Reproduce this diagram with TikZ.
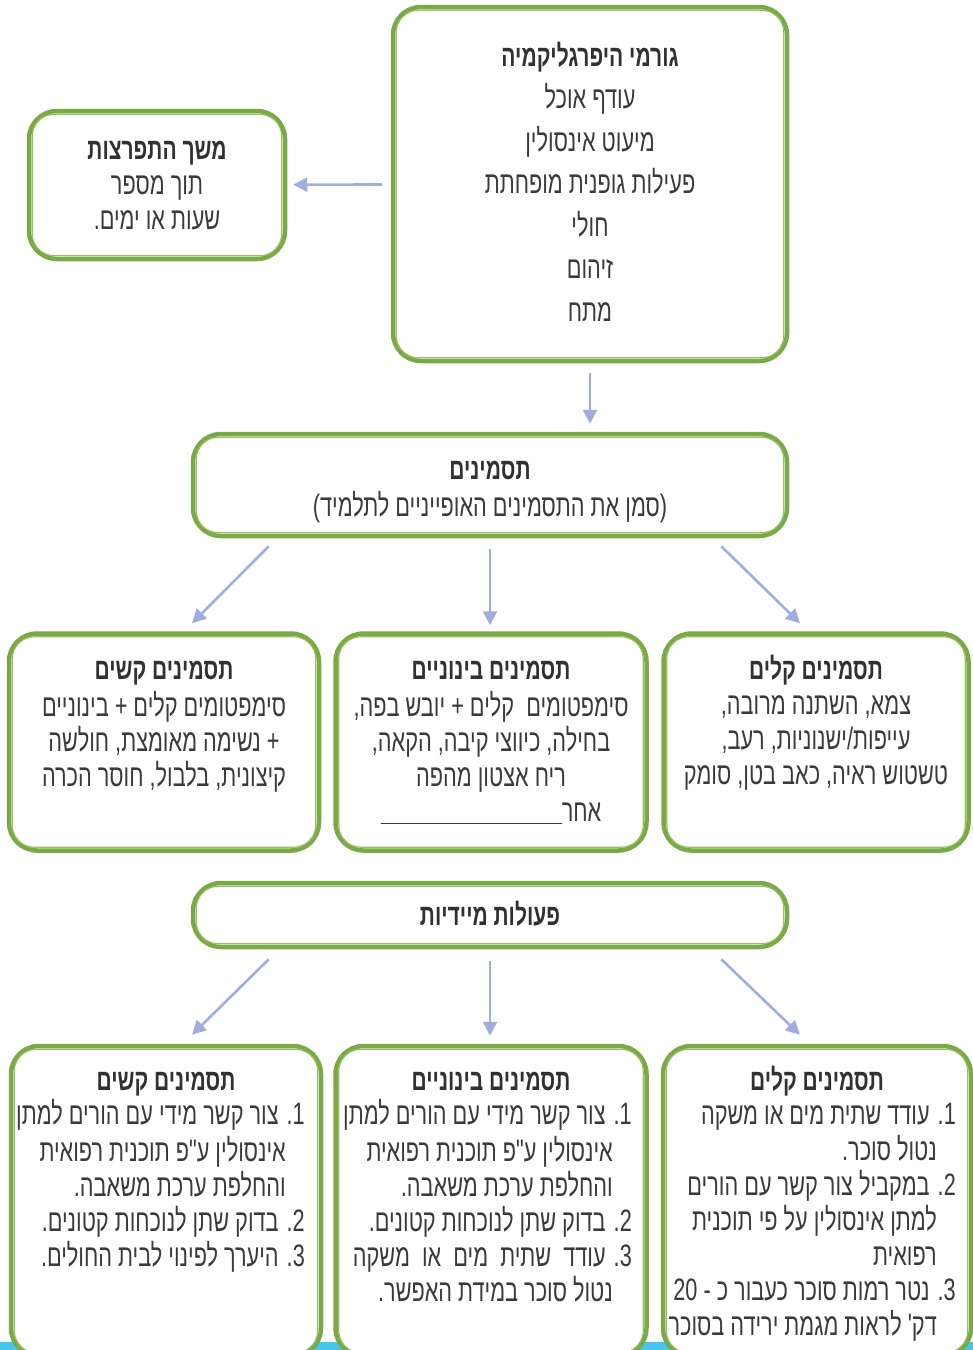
\documentclass[tikz,border=0pt]{standalone}
\usepackage{fontspec}
\setmainfont{Liberation Sans}
\newfontfamily\hebfont[Script=Hebrew,FakeStretch=0.7]{Liberation Sans}
\TeXXeTstate=1
\usepackage{xcolor}
\definecolor{BoxGreen}{RGB}{122,170,70}
\definecolor{LineGreen}{RGB}{150,192,100}
\definecolor{ArrowBlue}{RGB}{160,174,222}
\definecolor{Ink}{RGB}{58,58,58}
\definecolor{Strip}{RGB}{70,198,238}
\usetikzlibrary{arrows.meta}
\newcommand{\heb}[1]{\beginR#1\endR}
\newcommand{\hebB}[1]{{\bfseries\fontsize{30}{35}\selectfont\color{Ink!85!black}\beginR#1\endR}}
\tikzstyle{Box}=[draw=BoxGreen,line width=4.5pt,fill=white,rounded corners=28pt,
inner sep=0pt]
\tikzstyle{Inner}=[draw=LineGreen,line width=1.2pt,rounded corners=22pt]
\tikzstyle{Edge}=[draw=ArrowBlue,line width=2.6pt,-{Triangle[length=14pt,width=14pt]}]
\tikzstyle{NodeST}=[text=Ink,inner sep=0pt,align=center,
font=\hebfont\fontsize{31}{35}\selectfont]

\begin{document}
\begin{tikzpicture}[x=1pt,y=-1pt]
        \useasboundingbox(0,0)rectangle(973,1350);
        \fill[Strip](0,1342)rectangle(973,1352);
        % boxes
        \node[Box,minimum width=394pt,minimum height=354pt](cause)at(590,184){};
        \node[Box,minimum width=256pt,minimum height=148pt](dur)at(157,185){};
        \node[Box,minimum width=594pt,minimum height=102pt](symp)at(490,485){};
        \node[Box,minimum width=310pt,minimum height=217pt](hard)at(164,742){};
        \node[Box,minimum width=311pt,minimum height=217pt](mid)at(491,742){};
        \node[Box,minimum width=305pt,minimum height=217pt](light)at(816,742){};
        \node[Box,minimum width=594pt,minimum height=64pt](act)at(490,915){};
        \node[Box,minimum width=310pt,minimum height=310pt](hardAct)at(166,1201){};
        \node[Box,minimum width=311pt,minimum height=310pt](midAct)at(491,1201){};
        \node[Box,minimum width=308pt,minimum height=310pt](lightAct)at(817,1201){};
        \foreach \b in {cause,dur,symp,hard,mid,light,act,hardAct,midAct,lightAct}
            \draw[Inner]([shift={(5.5pt,5.5pt)}]\b.south west)rectangle
                ([shift={(-5.5pt,-5.5pt)}]\b.north east);
        % texts
        \node[NodeST,font=\hebfont\fontsize{31}{42.5}\selectfont](causeTxt)at(590,185){%
            \strut\hebB{גורמי היפרגליקמיה}\\\heb{עודף אוכל}\\\heb{מיעוט אינסולין}\\
            \heb{פעילות גופנית מופחתת}\\\heb{חולי}\\\heb{זיהום}\\\strut\heb{מתח}};
        \node[NodeST](durTxt)at(157,187){%
            \strut\hebB{משך התפרצות}\\\heb{תוך מספר}\\\strut\heb{שעות או ימים.}};
        \node[NodeST,font=\hebfont\fontsize{31}{34}\selectfont](sympTxt)at(490,491){%
            \strut\hebB{תסמינים}\\\strut\heb{(סמן את התסמינים האופייניים לתלמיד)}};
        \node[NodeST,anchor=north](hardTxt)at(164,655){%
            \strut\hebB{תסמינים קשים}\\\heb{סימפטומים קלים + בינוניים}\\
            \heb{+ נשימה מאומצת, חולשה}\\\heb{קיצונית, בלבול, חוסר הכרה}};
        \node[NodeST,anchor=north](midTxt)at(491,655){%
            \strut\hebB{תסמינים בינוניים}\\\heb{סימפטומים\ \ קלים + יובש בפה,}\\
            \heb{בחילה, כיווצי קיבה, הקאה,}\\\heb{ריח אצטון מהפה}\\
            \heb{אחר\rule[-3pt]{181pt}{1pt}}};
        \node[NodeST,anchor=north](lightTxt)at(816,655){%
            \strut\hebB{תסמינים קלים}\\\heb{צמא, השתנה מרובה,}\\
            \heb{עייפות/ישנוניות, רעב,}\\\heb{טשטוש ראיה, כאב בטן, סומק}};
        \node[NodeST,anchor=base](actTxt)at(490,925){\hebB{פעולות מיידיות}};
        \node[NodeST,anchor=base](hardActHead)at(166,1090){\hebB{תסמינים קשים}};
        \node[NodeST,anchor=base](midActHead)at(491,1090){\hebB{תסמינים בינוניים}};
        \node[NodeST,anchor=base](lightActHead)at(817,1090){\hebB{תסמינים קלים}};
        \node[NodeST,align=right,anchor=north east](hardActTxt)at(305,1099.5){%
            \strut\heb{1\kern0pt. צור קשר מידי עם הורים למתן}\\
            \heb{\hspace*{19pt}אינסולין ע"פ תוכנית רפואית}\\
            \heb{\hspace*{19pt}והחלפת ערכת משאבה.}\\
            \heb{2\kern0pt. בדוק שתן לנוכחות קטונים.}\\
            \heb{3\kern0pt. היערך לפינוי לבית החולים.}};
        \node[NodeST,align=right,anchor=north east](midActTxt)at(632,1099.5){%
            \strut\heb{1\kern0pt. צור קשר מידי עם הורים למתן}\\
            \heb{\hspace*{19pt}אינסולין ע"פ תוכנית רפואית}\\
            \heb{\hspace*{19pt}והחלפת ערכת משאבה.}\\
            \heb{2\kern0pt. בדוק שתן לנוכחות קטונים.}\\
            \heb{3\kern0pt. עודד\ \ שתית\ \ מים\ \ או\ \ משקה}\\
            \heb{\hspace*{19pt}נטול סוכר במידת האפשר.}};
        \node[NodeST,align=right,anchor=north east](lightActTxt)at(956,1099.5){%
            \strut\heb{1\kern0pt. עודד שתית מים או משקה}\\
            \heb{\hspace*{19pt}נטול סוכר.}\\
            \heb{2\kern0pt. במקביל צור קשר עם הורים}\\
            \heb{\hspace*{19pt}למתן אינסולין על פי תוכנית}\\
            \heb{\hspace*{19pt}רפואית}\\
            \heb{3\kern0pt. נטר רמות סוכר כעבור כ - 20}\\
            \heb{\hspace*{19pt}דק' לראות מגמת ירידה בסוכר}};
        % arrows
        \draw[Edge,shorten <=9pt,shorten >=6pt](cause)--(dur);
        \draw[Edge,shorten <=10pt,shorten >=8pt](cause.south)--(cause.south|-symp.north);
        \draw[Edge]([xshift=78pt,yshift=-8pt]symp.south west)--([xshift=28pt,yshift=8pt]hard.north);
        \draw[Edge,shorten <=11pt,shorten >=6pt](symp.south)--(symp.south|-mid.north);
        \draw[Edge]([xshift=-68pt,yshift=-8pt]symp.south east)--([xshift=-16pt,yshift=8pt]light.north);
        \draw[Edge]([xshift=78pt,yshift=-10pt]act.south west)--([xshift=26pt,yshift=9pt]hardAct.north);
        \draw[Edge,shorten <=12pt,shorten >=8pt](act.south)--(act.south|-midAct.north);
        \draw[Edge]([xshift=-68pt,yshift=-10pt]act.south east)--([xshift=-17pt,yshift=9pt]lightAct.north);
    \end{tikzpicture}
\end{document}
